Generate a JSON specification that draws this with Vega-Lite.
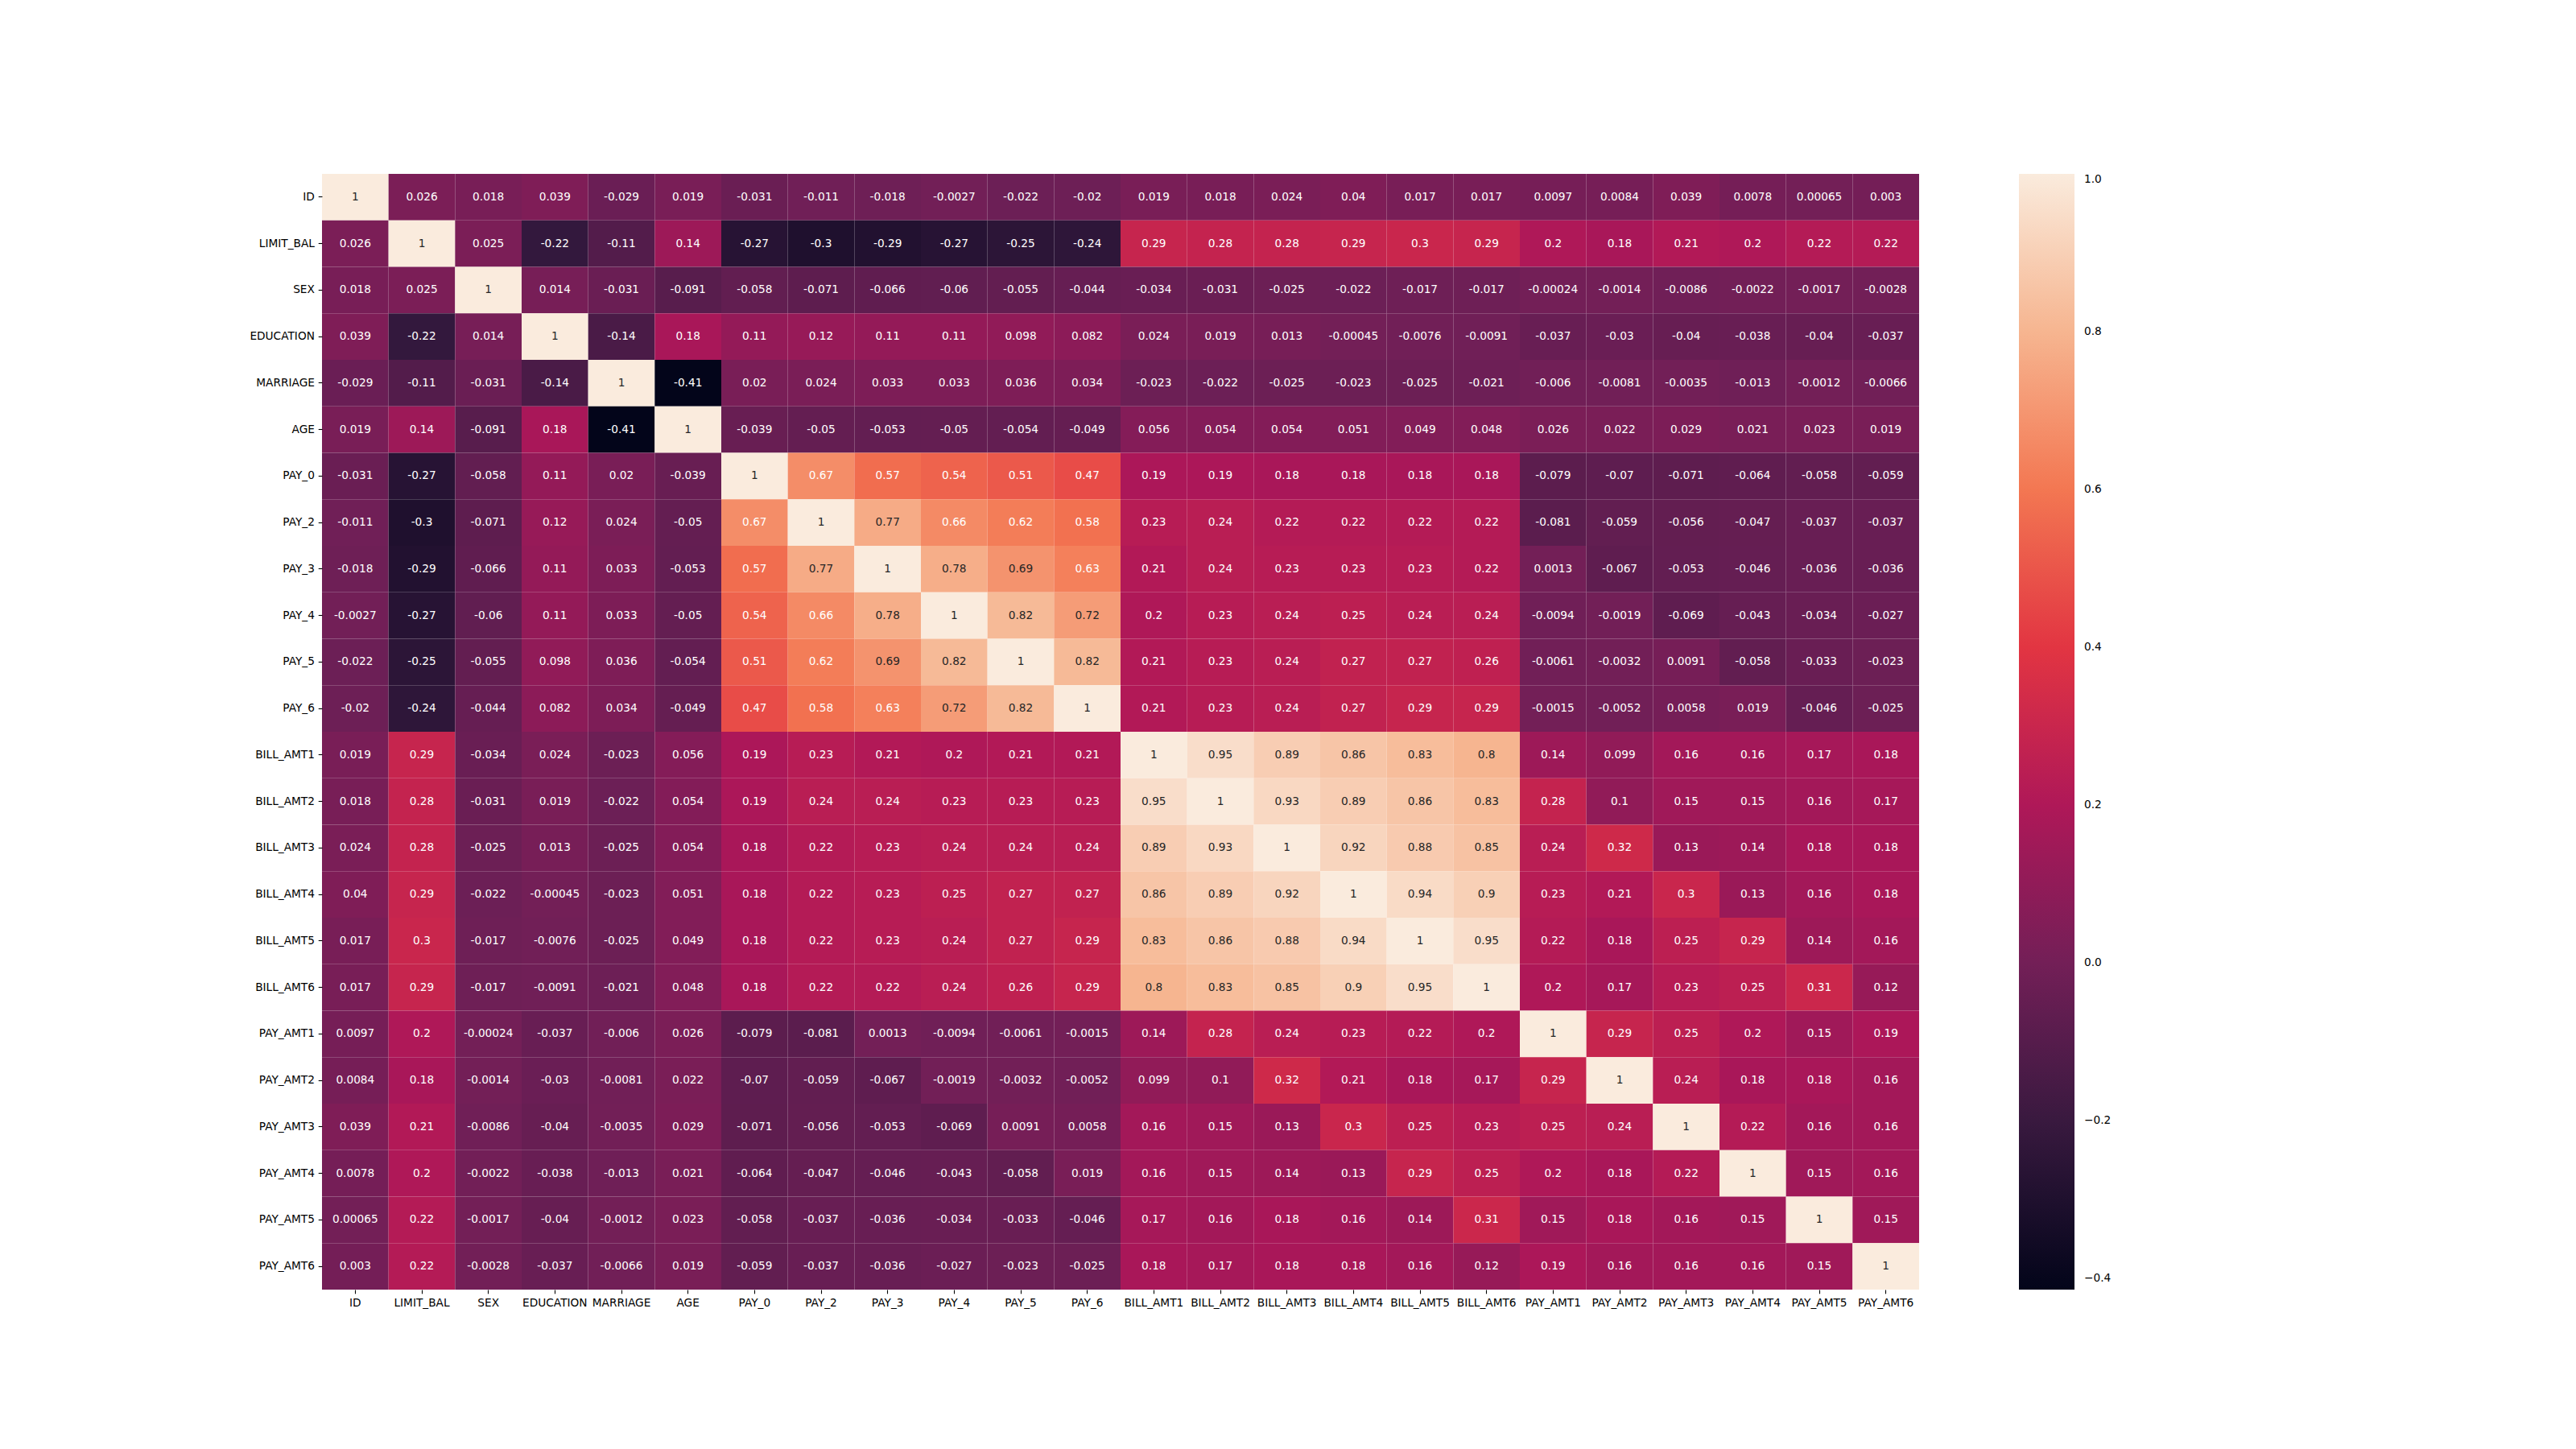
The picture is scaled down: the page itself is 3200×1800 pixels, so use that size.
{
  "$schema": "https://vega.github.io/schema/vega-lite/v6.json",
  "width": 1984,
  "height": 1386,
  "autosize": "none",
  "padding": {"left": 400, "top": 216, "right": 816, "bottom": 198},
  "background": "white",
  "config": {
    "view": {"stroke": null},
    "locale": {"number": {"decimal": ".", "thousands": ",", "grouping": [3], "currency": ["", ""], "minus": "-"}}
  },
  "data": {
    "values": [
      {"variable": "ID", "ID": 1, "LIMIT_BAL": 0.026, "SEX": 0.018, "EDUCATION": 0.039, "MARRIAGE": -0.029, "AGE": 0.019, "PAY_0": -0.031, "PAY_2": -0.011, "PAY_3": -0.018, "PAY_4": -0.0027, "PAY_5": -0.022, "PAY_6": -0.02, "BILL_AMT1": 0.019, "BILL_AMT2": 0.018, "BILL_AMT3": 0.024, "BILL_AMT4": 0.04, "BILL_AMT5": 0.017, "BILL_AMT6": 0.017, "PAY_AMT1": 0.0097, "PAY_AMT2": 0.0084, "PAY_AMT3": 0.039, "PAY_AMT4": 0.0078, "PAY_AMT5": 0.00065, "PAY_AMT6": 0.003},
      {"variable": "LIMIT_BAL", "ID": 0.026, "LIMIT_BAL": 1, "SEX": 0.025, "EDUCATION": -0.22, "MARRIAGE": -0.11, "AGE": 0.14, "PAY_0": -0.27, "PAY_2": -0.3, "PAY_3": -0.29, "PAY_4": -0.27, "PAY_5": -0.25, "PAY_6": -0.24, "BILL_AMT1": 0.29, "BILL_AMT2": 0.28, "BILL_AMT3": 0.28, "BILL_AMT4": 0.29, "BILL_AMT5": 0.3, "BILL_AMT6": 0.29, "PAY_AMT1": 0.2, "PAY_AMT2": 0.18, "PAY_AMT3": 0.21, "PAY_AMT4": 0.2, "PAY_AMT5": 0.22, "PAY_AMT6": 0.22},
      {"variable": "SEX", "ID": 0.018, "LIMIT_BAL": 0.025, "SEX": 1, "EDUCATION": 0.014, "MARRIAGE": -0.031, "AGE": -0.091, "PAY_0": -0.058, "PAY_2": -0.071, "PAY_3": -0.066, "PAY_4": -0.06, "PAY_5": -0.055, "PAY_6": -0.044, "BILL_AMT1": -0.034, "BILL_AMT2": -0.031, "BILL_AMT3": -0.025, "BILL_AMT4": -0.022, "BILL_AMT5": -0.017, "BILL_AMT6": -0.017, "PAY_AMT1": -0.00024, "PAY_AMT2": -0.0014, "PAY_AMT3": -0.0086, "PAY_AMT4": -0.0022, "PAY_AMT5": -0.0017, "PAY_AMT6": -0.0028},
      {"variable": "EDUCATION", "ID": 0.039, "LIMIT_BAL": -0.22, "SEX": 0.014, "EDUCATION": 1, "MARRIAGE": -0.14, "AGE": 0.18, "PAY_0": 0.11, "PAY_2": 0.12, "PAY_3": 0.11, "PAY_4": 0.11, "PAY_5": 0.098, "PAY_6": 0.082, "BILL_AMT1": 0.024, "BILL_AMT2": 0.019, "BILL_AMT3": 0.013, "BILL_AMT4": -0.00045, "BILL_AMT5": -0.0076, "BILL_AMT6": -0.0091, "PAY_AMT1": -0.037, "PAY_AMT2": -0.03, "PAY_AMT3": -0.04, "PAY_AMT4": -0.038, "PAY_AMT5": -0.04, "PAY_AMT6": -0.037},
      {"variable": "MARRIAGE", "ID": -0.029, "LIMIT_BAL": -0.11, "SEX": -0.031, "EDUCATION": -0.14, "MARRIAGE": 1, "AGE": -0.414, "PAY_0": 0.02, "PAY_2": 0.024, "PAY_3": 0.033, "PAY_4": 0.033, "PAY_5": 0.036, "PAY_6": 0.034, "BILL_AMT1": -0.023, "BILL_AMT2": -0.022, "BILL_AMT3": -0.025, "BILL_AMT4": -0.023, "BILL_AMT5": -0.025, "BILL_AMT6": -0.021, "PAY_AMT1": -0.006, "PAY_AMT2": -0.0081, "PAY_AMT3": -0.0035, "PAY_AMT4": -0.013, "PAY_AMT5": -0.0012, "PAY_AMT6": -0.0066},
      {"variable": "AGE", "ID": 0.019, "LIMIT_BAL": 0.14, "SEX": -0.091, "EDUCATION": 0.18, "MARRIAGE": -0.414, "AGE": 1, "PAY_0": -0.039, "PAY_2": -0.05, "PAY_3": -0.053, "PAY_4": -0.05, "PAY_5": -0.054, "PAY_6": -0.049, "BILL_AMT1": 0.056, "BILL_AMT2": 0.054, "BILL_AMT3": 0.054, "BILL_AMT4": 0.051, "BILL_AMT5": 0.049, "BILL_AMT6": 0.048, "PAY_AMT1": 0.026, "PAY_AMT2": 0.022, "PAY_AMT3": 0.029, "PAY_AMT4": 0.021, "PAY_AMT5": 0.023, "PAY_AMT6": 0.019},
      {"variable": "PAY_0", "ID": -0.031, "LIMIT_BAL": -0.27, "SEX": -0.058, "EDUCATION": 0.11, "MARRIAGE": 0.02, "AGE": -0.039, "PAY_0": 1, "PAY_2": 0.67, "PAY_3": 0.57, "PAY_4": 0.54, "PAY_5": 0.51, "PAY_6": 0.47, "BILL_AMT1": 0.19, "BILL_AMT2": 0.19, "BILL_AMT3": 0.18, "BILL_AMT4": 0.18, "BILL_AMT5": 0.18, "BILL_AMT6": 0.18, "PAY_AMT1": -0.079, "PAY_AMT2": -0.07, "PAY_AMT3": -0.071, "PAY_AMT4": -0.064, "PAY_AMT5": -0.058, "PAY_AMT6": -0.059},
      {"variable": "PAY_2", "ID": -0.011, "LIMIT_BAL": -0.3, "SEX": -0.071, "EDUCATION": 0.12, "MARRIAGE": 0.024, "AGE": -0.05, "PAY_0": 0.67, "PAY_2": 1, "PAY_3": 0.77, "PAY_4": 0.66, "PAY_5": 0.62, "PAY_6": 0.58, "BILL_AMT1": 0.23, "BILL_AMT2": 0.24, "BILL_AMT3": 0.22, "BILL_AMT4": 0.22, "BILL_AMT5": 0.22, "BILL_AMT6": 0.22, "PAY_AMT1": -0.081, "PAY_AMT2": -0.059, "PAY_AMT3": -0.056, "PAY_AMT4": -0.047, "PAY_AMT5": -0.037, "PAY_AMT6": -0.037},
      {"variable": "PAY_3", "ID": -0.018, "LIMIT_BAL": -0.29, "SEX": -0.066, "EDUCATION": 0.11, "MARRIAGE": 0.033, "AGE": -0.053, "PAY_0": 0.57, "PAY_2": 0.77, "PAY_3": 1, "PAY_4": 0.78, "PAY_5": 0.69, "PAY_6": 0.63, "BILL_AMT1": 0.21, "BILL_AMT2": 0.24, "BILL_AMT3": 0.23, "BILL_AMT4": 0.23, "BILL_AMT5": 0.23, "BILL_AMT6": 0.22, "PAY_AMT1": 0.0013, "PAY_AMT2": -0.067, "PAY_AMT3": -0.053, "PAY_AMT4": -0.046, "PAY_AMT5": -0.036, "PAY_AMT6": -0.036},
      {"variable": "PAY_4", "ID": -0.0027, "LIMIT_BAL": -0.27, "SEX": -0.06, "EDUCATION": 0.11, "MARRIAGE": 0.033, "AGE": -0.05, "PAY_0": 0.54, "PAY_2": 0.66, "PAY_3": 0.78, "PAY_4": 1, "PAY_5": 0.82, "PAY_6": 0.72, "BILL_AMT1": 0.2, "BILL_AMT2": 0.23, "BILL_AMT3": 0.24, "BILL_AMT4": 0.25, "BILL_AMT5": 0.24, "BILL_AMT6": 0.24, "PAY_AMT1": -0.0094, "PAY_AMT2": -0.0019, "PAY_AMT3": -0.069, "PAY_AMT4": -0.043, "PAY_AMT5": -0.034, "PAY_AMT6": -0.027},
      {"variable": "PAY_5", "ID": -0.022, "LIMIT_BAL": -0.25, "SEX": -0.055, "EDUCATION": 0.098, "MARRIAGE": 0.036, "AGE": -0.054, "PAY_0": 0.51, "PAY_2": 0.62, "PAY_3": 0.69, "PAY_4": 0.82, "PAY_5": 1, "PAY_6": 0.82, "BILL_AMT1": 0.21, "BILL_AMT2": 0.23, "BILL_AMT3": 0.24, "BILL_AMT4": 0.27, "BILL_AMT5": 0.27, "BILL_AMT6": 0.26, "PAY_AMT1": -0.0061, "PAY_AMT2": -0.0032, "PAY_AMT3": 0.0091, "PAY_AMT4": -0.058, "PAY_AMT5": -0.033, "PAY_AMT6": -0.023},
      {"variable": "PAY_6", "ID": -0.02, "LIMIT_BAL": -0.24, "SEX": -0.044, "EDUCATION": 0.082, "MARRIAGE": 0.034, "AGE": -0.049, "PAY_0": 0.47, "PAY_2": 0.58, "PAY_3": 0.63, "PAY_4": 0.72, "PAY_5": 0.82, "PAY_6": 1, "BILL_AMT1": 0.21, "BILL_AMT2": 0.23, "BILL_AMT3": 0.24, "BILL_AMT4": 0.27, "BILL_AMT5": 0.29, "BILL_AMT6": 0.29, "PAY_AMT1": -0.0015, "PAY_AMT2": -0.0052, "PAY_AMT3": 0.0058, "PAY_AMT4": 0.019, "PAY_AMT5": -0.046, "PAY_AMT6": -0.025},
      {"variable": "BILL_AMT1", "ID": 0.019, "LIMIT_BAL": 0.29, "SEX": -0.034, "EDUCATION": 0.024, "MARRIAGE": -0.023, "AGE": 0.056, "PAY_0": 0.19, "PAY_2": 0.23, "PAY_3": 0.21, "PAY_4": 0.2, "PAY_5": 0.21, "PAY_6": 0.21, "BILL_AMT1": 1, "BILL_AMT2": 0.95, "BILL_AMT3": 0.89, "BILL_AMT4": 0.86, "BILL_AMT5": 0.83, "BILL_AMT6": 0.8, "PAY_AMT1": 0.14, "PAY_AMT2": 0.099, "PAY_AMT3": 0.16, "PAY_AMT4": 0.16, "PAY_AMT5": 0.17, "PAY_AMT6": 0.18},
      {"variable": "BILL_AMT2", "ID": 0.018, "LIMIT_BAL": 0.28, "SEX": -0.031, "EDUCATION": 0.019, "MARRIAGE": -0.022, "AGE": 0.054, "PAY_0": 0.19, "PAY_2": 0.24, "PAY_3": 0.24, "PAY_4": 0.23, "PAY_5": 0.23, "PAY_6": 0.23, "BILL_AMT1": 0.95, "BILL_AMT2": 1, "BILL_AMT3": 0.93, "BILL_AMT4": 0.89, "BILL_AMT5": 0.86, "BILL_AMT6": 0.83, "PAY_AMT1": 0.28, "PAY_AMT2": 0.1, "PAY_AMT3": 0.15, "PAY_AMT4": 0.15, "PAY_AMT5": 0.16, "PAY_AMT6": 0.17},
      {"variable": "BILL_AMT3", "ID": 0.024, "LIMIT_BAL": 0.28, "SEX": -0.025, "EDUCATION": 0.013, "MARRIAGE": -0.025, "AGE": 0.054, "PAY_0": 0.18, "PAY_2": 0.22, "PAY_3": 0.23, "PAY_4": 0.24, "PAY_5": 0.24, "PAY_6": 0.24, "BILL_AMT1": 0.89, "BILL_AMT2": 0.93, "BILL_AMT3": 1, "BILL_AMT4": 0.92, "BILL_AMT5": 0.88, "BILL_AMT6": 0.85, "PAY_AMT1": 0.24, "PAY_AMT2": 0.32, "PAY_AMT3": 0.13, "PAY_AMT4": 0.14, "PAY_AMT5": 0.18, "PAY_AMT6": 0.18},
      {"variable": "BILL_AMT4", "ID": 0.04, "LIMIT_BAL": 0.29, "SEX": -0.022, "EDUCATION": -0.00045, "MARRIAGE": -0.023, "AGE": 0.051, "PAY_0": 0.18, "PAY_2": 0.22, "PAY_3": 0.23, "PAY_4": 0.25, "PAY_5": 0.27, "PAY_6": 0.27, "BILL_AMT1": 0.86, "BILL_AMT2": 0.89, "BILL_AMT3": 0.92, "BILL_AMT4": 1, "BILL_AMT5": 0.94, "BILL_AMT6": 0.9, "PAY_AMT1": 0.23, "PAY_AMT2": 0.21, "PAY_AMT3": 0.3, "PAY_AMT4": 0.13, "PAY_AMT5": 0.16, "PAY_AMT6": 0.18},
      {"variable": "BILL_AMT5", "ID": 0.017, "LIMIT_BAL": 0.3, "SEX": -0.017, "EDUCATION": -0.0076, "MARRIAGE": -0.025, "AGE": 0.049, "PAY_0": 0.18, "PAY_2": 0.22, "PAY_3": 0.23, "PAY_4": 0.24, "PAY_5": 0.27, "PAY_6": 0.29, "BILL_AMT1": 0.83, "BILL_AMT2": 0.86, "BILL_AMT3": 0.88, "BILL_AMT4": 0.94, "BILL_AMT5": 1, "BILL_AMT6": 0.95, "PAY_AMT1": 0.22, "PAY_AMT2": 0.18, "PAY_AMT3": 0.25, "PAY_AMT4": 0.29, "PAY_AMT5": 0.14, "PAY_AMT6": 0.16},
      {"variable": "BILL_AMT6", "ID": 0.017, "LIMIT_BAL": 0.29, "SEX": -0.017, "EDUCATION": -0.0091, "MARRIAGE": -0.021, "AGE": 0.048, "PAY_0": 0.18, "PAY_2": 0.22, "PAY_3": 0.22, "PAY_4": 0.24, "PAY_5": 0.26, "PAY_6": 0.29, "BILL_AMT1": 0.8, "BILL_AMT2": 0.83, "BILL_AMT3": 0.85, "BILL_AMT4": 0.9, "BILL_AMT5": 0.95, "BILL_AMT6": 1, "PAY_AMT1": 0.2, "PAY_AMT2": 0.17, "PAY_AMT3": 0.23, "PAY_AMT4": 0.25, "PAY_AMT5": 0.31, "PAY_AMT6": 0.12},
      {"variable": "PAY_AMT1", "ID": 0.0097, "LIMIT_BAL": 0.2, "SEX": -0.00024, "EDUCATION": -0.037, "MARRIAGE": -0.006, "AGE": 0.026, "PAY_0": -0.079, "PAY_2": -0.081, "PAY_3": 0.0013, "PAY_4": -0.0094, "PAY_5": -0.0061, "PAY_6": -0.0015, "BILL_AMT1": 0.14, "BILL_AMT2": 0.28, "BILL_AMT3": 0.24, "BILL_AMT4": 0.23, "BILL_AMT5": 0.22, "BILL_AMT6": 0.2, "PAY_AMT1": 1, "PAY_AMT2": 0.29, "PAY_AMT3": 0.25, "PAY_AMT4": 0.2, "PAY_AMT5": 0.15, "PAY_AMT6": 0.19},
      {"variable": "PAY_AMT2", "ID": 0.0084, "LIMIT_BAL": 0.18, "SEX": -0.0014, "EDUCATION": -0.03, "MARRIAGE": -0.0081, "AGE": 0.022, "PAY_0": -0.07, "PAY_2": -0.059, "PAY_3": -0.067, "PAY_4": -0.0019, "PAY_5": -0.0032, "PAY_6": -0.0052, "BILL_AMT1": 0.099, "BILL_AMT2": 0.1, "BILL_AMT3": 0.32, "BILL_AMT4": 0.21, "BILL_AMT5": 0.18, "BILL_AMT6": 0.17, "PAY_AMT1": 0.29, "PAY_AMT2": 1, "PAY_AMT3": 0.24, "PAY_AMT4": 0.18, "PAY_AMT5": 0.18, "PAY_AMT6": 0.16},
      {"variable": "PAY_AMT3", "ID": 0.039, "LIMIT_BAL": 0.21, "SEX": -0.0086, "EDUCATION": -0.04, "MARRIAGE": -0.0035, "AGE": 0.029, "PAY_0": -0.071, "PAY_2": -0.056, "PAY_3": -0.053, "PAY_4": -0.069, "PAY_5": 0.0091, "PAY_6": 0.0058, "BILL_AMT1": 0.16, "BILL_AMT2": 0.15, "BILL_AMT3": 0.13, "BILL_AMT4": 0.3, "BILL_AMT5": 0.25, "BILL_AMT6": 0.23, "PAY_AMT1": 0.25, "PAY_AMT2": 0.24, "PAY_AMT3": 1, "PAY_AMT4": 0.22, "PAY_AMT5": 0.16, "PAY_AMT6": 0.16},
      {"variable": "PAY_AMT4", "ID": 0.0078, "LIMIT_BAL": 0.2, "SEX": -0.0022, "EDUCATION": -0.038, "MARRIAGE": -0.013, "AGE": 0.021, "PAY_0": -0.064, "PAY_2": -0.047, "PAY_3": -0.046, "PAY_4": -0.043, "PAY_5": -0.058, "PAY_6": 0.019, "BILL_AMT1": 0.16, "BILL_AMT2": 0.15, "BILL_AMT3": 0.14, "BILL_AMT4": 0.13, "BILL_AMT5": 0.29, "BILL_AMT6": 0.25, "PAY_AMT1": 0.2, "PAY_AMT2": 0.18, "PAY_AMT3": 0.22, "PAY_AMT4": 1, "PAY_AMT5": 0.15, "PAY_AMT6": 0.16},
      {"variable": "PAY_AMT5", "ID": 0.00065, "LIMIT_BAL": 0.22, "SEX": -0.0017, "EDUCATION": -0.04, "MARRIAGE": -0.0012, "AGE": 0.023, "PAY_0": -0.058, "PAY_2": -0.037, "PAY_3": -0.036, "PAY_4": -0.034, "PAY_5": -0.033, "PAY_6": -0.046, "BILL_AMT1": 0.17, "BILL_AMT2": 0.16, "BILL_AMT3": 0.18, "BILL_AMT4": 0.16, "BILL_AMT5": 0.14, "BILL_AMT6": 0.31, "PAY_AMT1": 0.15, "PAY_AMT2": 0.18, "PAY_AMT3": 0.16, "PAY_AMT4": 0.15, "PAY_AMT5": 1, "PAY_AMT6": 0.15},
      {"variable": "PAY_AMT6", "ID": 0.003, "LIMIT_BAL": 0.22, "SEX": -0.0028, "EDUCATION": -0.037, "MARRIAGE": -0.0066, "AGE": 0.019, "PAY_0": -0.059, "PAY_2": -0.037, "PAY_3": -0.036, "PAY_4": -0.027, "PAY_5": -0.023, "PAY_6": -0.025, "BILL_AMT1": 0.18, "BILL_AMT2": 0.17, "BILL_AMT3": 0.18, "BILL_AMT4": 0.18, "BILL_AMT5": 0.16, "BILL_AMT6": 0.12, "PAY_AMT1": 0.19, "PAY_AMT2": 0.16, "PAY_AMT3": 0.16, "PAY_AMT4": 0.16, "PAY_AMT5": 0.15, "PAY_AMT6": 1}
    ]
  },
  "transform": [
    {"fold": ["ID", "LIMIT_BAL", "SEX", "EDUCATION", "MARRIAGE", "AGE", "PAY_0", "PAY_2", "PAY_3", "PAY_4", "PAY_5", "PAY_6", "BILL_AMT1", "BILL_AMT2", "BILL_AMT3", "BILL_AMT4", "BILL_AMT5", "BILL_AMT6", "PAY_AMT1", "PAY_AMT2", "PAY_AMT3", "PAY_AMT4", "PAY_AMT5", "PAY_AMT6"], "as": ["col", "v"]}
  ],
  "encoding": {
    "x": {
      "field": "col", "type": "nominal",
      "sort": ["ID", "LIMIT_BAL", "SEX", "EDUCATION", "MARRIAGE", "AGE", "PAY_0", "PAY_2", "PAY_3", "PAY_4", "PAY_5", "PAY_6", "BILL_AMT1", "BILL_AMT2", "BILL_AMT3", "BILL_AMT4", "BILL_AMT5", "BILL_AMT6", "PAY_AMT1", "PAY_AMT2", "PAY_AMT3", "PAY_AMT4", "PAY_AMT5", "PAY_AMT6"],
      "scale": {"paddingInner": 0, "paddingOuter": 0},
      "axis": {"title": null, "orient": "bottom", "labelAngle": 0, "domain": false, "ticks": true, "tickSize": 4.8, "tickWidth": 1.1, "tickColor": "black", "labelFont": "DejaVu Sans", "labelFontSize": 13.7, "labelColor": "black", "labelPadding": 4.8, "labelOverlap": false, "labelLimit": 0, "labelBound": false}
    },
    "y": {
      "field": "variable", "type": "nominal",
      "sort": ["ID", "LIMIT_BAL", "SEX", "EDUCATION", "MARRIAGE", "AGE", "PAY_0", "PAY_2", "PAY_3", "PAY_4", "PAY_5", "PAY_6", "BILL_AMT1", "BILL_AMT2", "BILL_AMT3", "BILL_AMT4", "BILL_AMT5", "BILL_AMT6", "PAY_AMT1", "PAY_AMT2", "PAY_AMT3", "PAY_AMT4", "PAY_AMT5", "PAY_AMT6"],
      "scale": {"paddingInner": 0, "paddingOuter": 0},
      "axis": {"title": null, "domain": false, "ticks": true, "tickSize": 4.8, "tickWidth": 1.1, "tickColor": "black", "labelFont": "DejaVu Sans", "labelFontSize": 13.7, "labelColor": "black", "labelPadding": 4.8, "labelOverlap": false, "labelLimit": 0}
    }
  },
  "layer": [
    {
      "mark": {"type": "rect", "strokeWidth": 0},
      "encoding": {
        "color": {
          "field": "v", "type": "quantitative",
          "scale": {
            "domain": [-0.414, -0.212, -0.01, 0.192, 0.394, 0.596, 0.798, 1.0],
            "range": ["#03051a", "#35193e", "#701f57", "#ad1759", "#e13342", "#f37651", "#f6b48f", "#faebdd"],
            "interpolate": "rgb"
          },
          "legend": {
            "title": null, "orient": "none", "legendX": 2108, "legendY": 0, "direction": "vertical",
            "gradientLength": 1386, "gradientThickness": 69, "gradientStrokeWidth": 0, "padding": 0,
            "values": [-0.4, -0.2, 0, 0.2, 0.4, 0.6, 0.8, 1.0], "format": ".1f",
            "labelExpr": "replace(datum.label, '-', '−')",
            "labelFont": "DejaVu Sans", "labelFontSize": 13.7, "labelColor": "black", "labelOffset": 12,
            "labelBaseline": "middle", "labelOverlap": false
          }
        }
      }
    },
    {
      "mark": {"type": "text", "font": "DejaVu Sans", "fontSize": 13.7, "align": "center", "baseline": "middle"},
      "encoding": {
        "text": {"field": "v", "type": "quantitative", "format": ".2~g"},
        "color": {"condition": {"test": "datum.v > 0.68", "value": "#262626"}, "value": "#ffffff"}
      }
    }
  ]
}
